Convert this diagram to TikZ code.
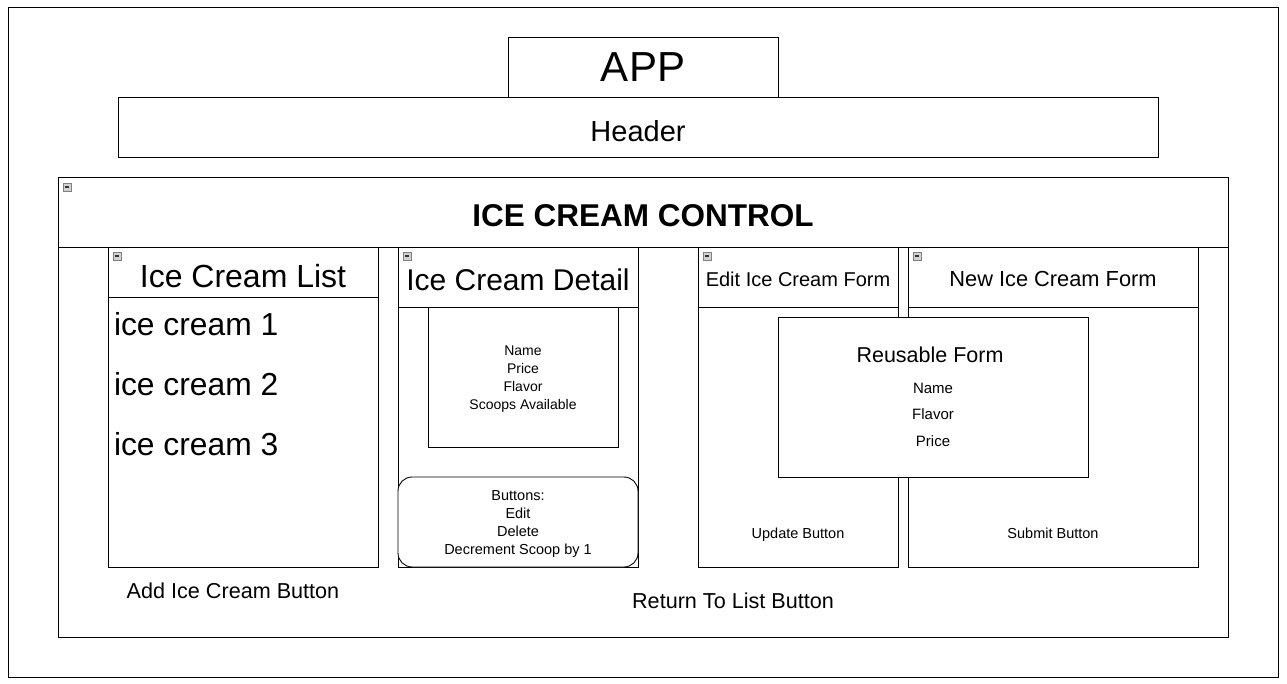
\documentclass[tikz,border=0pt]{standalone}
\usepackage{fontspec}
\setmainfont{Liberation Sans}
\usetikzlibrary{positioning}

\begin{document}
\begin{tikzpicture}[x=1pt, y=-1pt,
   every node/.style={inner sep=0pt, outer sep=0pt, text=black},
   box/.style={draw, line width=0.9pt, fill=white, anchor=north west},
   title/.style={font=\fontsize{#1}{#1}\selectfont},
   boldtitle/.style={font=\fontsize{#1}{#1}\selectfont\bfseries},
   small/.style={font=\fontsize{14.5}{18}\selectfont, align=center},
   fold/.style={draw=gray, fill=gray!35, line width=0.6pt, minimum size=8pt,
     path picture={\draw[line width=1.1pt, black!80] ([xshift=1.8pt]path picture bounding box.west)
       -- ([xshift=-1.8pt]path picture bounding box.east);}}]

\useasboundingbox (0,0) rectangle (1287,684);

% outer frame
\node[box, minimum width=1270pt, minimum height=670pt] (frame) at (8,7) {};

% app + header
\node[box, minimum width=1040pt, minimum height=60pt] (header) at (118,97) {};
\node[box, minimum width=270pt, minimum height=60pt] (app) at (508,37) {};
\node[title=42] at (643,67) {APP};
\node[title=29] at (638,131) {Header};

% control
\node[box, minimum width=1170pt, minimum height=70pt] (ctrlhead) at (58,177) {};
\node[box, minimum width=1170pt, minimum height=390pt, below=0pt of ctrlhead] (control) {};
\node[boldtitle=31.5] at (643,216) {ICE CREAM CONTROL};

% list
\node[box, minimum width=270pt, minimum height=50pt] (listhead) at (108,247) {};
\node[box, minimum width=270pt, minimum height=270pt, below=0pt of listhead] (listbody) {};
\node[title=32] at (243,276) {Ice Cream List};
\foreach \i/\y in {1/324, 2/384, 3/444}
  \node[title=31.8, anchor=west] (item\i) at (114,\y) {ice cream \i};

% detail
\node[box, minimum width=240pt, minimum height=60pt] (detailhead) at (398,247) {};
\node[box, minimum width=240pt, minimum height=260pt, below=0pt of detailhead] (detailbody) {};
\node[title=30] at (518,280) {Ice Cream Detail};
\node[box, minimum width=190pt, minimum height=140pt] (info) at (428,307) {};
\node[small, font=\fontsize{14}{18}\selectfont] at (523,379) {Name\\Price\\Flavor\\Scoops Available};
\node[box, rounded corners=14pt, minimum width=240pt, minimum height=90pt] (btns) at (398,477) {};
\node[small] at (518,524.5) {Buttons:\\Edit\\Delete\\Decrement Scoop by 1};

% edit + new forms
\node[box, minimum width=200pt, minimum height=60pt] (edithead) at (698,247) {};
\node[box, minimum width=200pt, minimum height=260pt, below=0pt of edithead] (editbody) {};
\node[title=20] at (798,279) {Edit Ice Cream Form};
\node[box, minimum width=290pt, minimum height=60pt] (newhead) at (908,247) {};
\node[box, minimum width=290pt, minimum height=260pt, below=0pt of newhead] (newbody) {};
\node[title=21.8] at (1053,279) {New Ice Cream Form};

% reusable form
\node[box, minimum width=310pt, minimum height=160pt] (reuse) at (778,317) {};
\node[title=21.5] at (930,355) {Reusable Form};
\node[small, font=\fontsize{15}{26.5}\selectfont] at (933,414.5) {Name\\Flavor\\Price};
\node[small, anchor=base] (update) at (798,538) {Update Button};
\node[small, anchor=base] (submit) at (1053,538) {Submit Button};

% buttons below
\node[title=21.6] (addbtn) at (233,591) {Add Ice Cream Button};
\node[title=21.6] (retbtn) at (733,601) {Return To List Button};

% fold icons
\foreach \p in {(67,187), (117,256), (407,256), (707,256), (917,256)}
  \node[fold] at \p {};

\end{tikzpicture}
\end{document}
